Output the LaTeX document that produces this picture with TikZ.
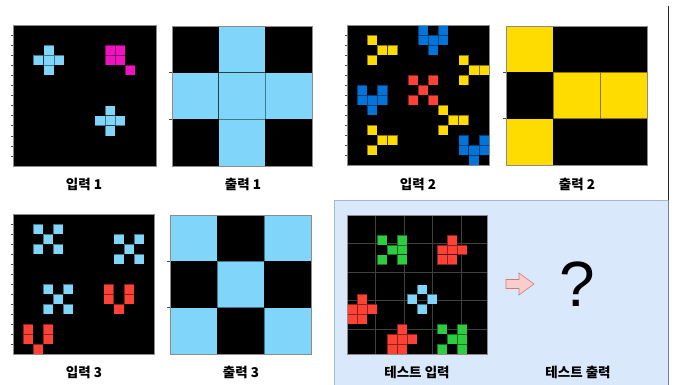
\documentclass[tikz,border=0pt]{standalone}
\usepackage{fontspec}
\setmainfont{Noto Sans CJK KR}
\newfontfamily\qfont{Liberation Sans}
\definecolor{arcLB}{HTML}{7FD6FA}
\definecolor{arcMG}{HTML}{F012BE}
\definecolor{arcBL}{HTML}{0074D9}
\definecolor{arcRD}{HTML}{FF4136}
\definecolor{arcYL}{HTML}{FFDC00}
\definecolor{arcGR}{HTML}{2ECC40}
\definecolor{boxfill}{HTML}{DAE8FC}
\definecolor{boxline}{HTML}{9FB8DE}
\definecolor{arrfill}{HTML}{F8CECC}
\definecolor{arrline}{HTML}{D07A78}
\tikzset{
  cell/.style={draw=black, draw opacity=0.45, line width=0.5pt},
  gridedge/.style={draw=black!45, line width=0.6pt},
  tick/.style={draw=black!70, line width=0.5pt},
  lbl/.style={font=\fontsize{13.5}{16}\selectfont\bfseries, inner sep=0pt},
  blockarrow/.style={draw=arrline, fill=arrfill, line width=0.6pt, line join=miter},
}
\newcommand\arccells[2]{\foreach \c/\r in {#2} {\filldraw[cell, fill=#1] (\c,\r) rectangle ++(1,1);}}
\newcommand\bigticks{\foreach \i in {1,2} {\draw[tick] (0,\i) -- ++(-0.06,0);}}
\newcommand\smallticks{\foreach \i in {1,...,13} {\draw[tick] (0,\i) -- ++(-0.15,0);}}
\begin{document}
\begin{tikzpicture}[x=1pt,y=-1pt]
\useasboundingbox (0,0) rectangle (677,385);
\fill[white] (0,0) rectangle (677,385);
% test box
\filldraw[fill=boxfill, draw=boxline, line width=0.8pt] (334,200.5) rectangle (668,392);
\draw[black!85, line width=1pt] (668,6) -- (668,200);
\draw[boxline!70!black, line width=0.8pt] (668,200) -- (668,392);

% Input 1
\begin{scope}[shift={(13,25)}, x=10.2pt, y=-10.07pt]
  \fill[black] (0,0) rectangle (14,14);
  \arccells{arcLB}{3/2,2/3,3/3,4/3,3/4, 9/8,8/9,9/9,10/9,9/10}
  \arccells{arcMG}{9/2,10/2,9/3,10/3,11/4}
  \draw[gridedge] (0,0) rectangle (14,14);
  \smallticks
\end{scope}
% Output 1
\begin{scope}[shift={(172,26)}, x=46.67pt, y=-46.67pt]
  \fill[black] (0,0) rectangle (3,3);
  \arccells{arcLB}{1/0,0/1,1/1,2/1,1/2}
  \draw[gridedge] (0,0) rectangle (3,3);
  \bigticks
\end{scope}
% Input 2
\begin{scope}[shift={(347,25)}, x=10.14pt, y=-10pt]
  \fill[black] (0,0) rectangle (14,14);
  \arccells{arcYL}{2/1,3/2,4/2,2/3, 11/3,12/4,13/4,11/5, 9/8,10/9,11/9,9/10, 2/10,3/11,4/11,2/12}
  \arccells{arcBL}{7/0,9/0,7/1,8/1,9/1,8/2, 1/6,3/6,1/7,2/7,3/7,2/8, 11/11,13/11,11/12,12/12,13/12,12/13}
  \arccells{arcRD}{6/5,8/5,7/6,6/7,8/7}
  \draw[gridedge] (0,0) rectangle (14,14);
  \smallticks
\end{scope}
% Output 2
\begin{scope}[shift={(506,26)}, x=47pt, y=-46.33pt]
  \fill[black] (0,0) rectangle (3,3);
  \arccells{arcYL}{0/0,1/1,2/1,0/2}
  \draw[gridedge] (0,0) rectangle (3,3);
  \bigticks
\end{scope}
% Input 3
\begin{scope}[shift={(13,214)}, x=10.07pt, y=-10pt]
  \fill[black] (0,0) rectangle (14,14);
  \arccells{arcLB}{2/1,4/1,3/2,2/3,4/3, 10/2,12/2,11/3,10/4,12/4, 3/7,5/7,4/8,3/9,5/9}
  \arccells{arcRD}{9/7,11/7,9/8,11/8,10/9, 1/11,3/11,1/12,3/12,2/13}
  \draw[gridedge] (0,0) rectangle (14,14);
  \smallticks
\end{scope}
% Output 3
\begin{scope}[shift={(170,215)}, x=47pt, y=-46.33pt]
  \fill[black] (0,0) rectangle (3,3);
  \arccells{arcLB}{0/0,2/0,1/1,0/2,2/2}
  \draw[gridedge] (0,0) rectangle (3,3);
  \bigticks
\end{scope}
% Test input
\begin{scope}[shift={(347,215)}, x=10pt, y=-9.93pt]
  \fill[black] (0,0) rectangle (14,14);
  \draw[white!25!black, line width=0.45pt] (0,0) grid (14,14);
  \arccells{arcGR}{3/2,5/2,4/3,5/3,3/4,5/4, 9/11,11/11,10/12,11/12,9/13,11/13}
  \arccells{arcRD}{10/2,9/3,10/3,11/3,9/4,10/4, 1/8,0/9,1/9,2/9,0/10,1/10, 5/11,4/12,5/12,6/12,4/13,5/13}
  \arccells{arcLB}{7/7,6/8,8/8,7/9}
  \draw[gridedge] (0,0) rectangle (14,14);
\end{scope}

% block arrow and question mark
\filldraw[blockarrow] (506,279.5) -- (519,279.5) -- (519,273) -- (534,284)
  -- (519,295) -- (519,288.5) -- (506,288.5) -- cycle;
\node[font=\qfont\fontsize{64}{64}\selectfont, inner sep=0pt] (qmark) at (577,284) {?};

% labels
\node[lbl] (lin1) at (84,184) {입력 1};
\node[lbl] (lout1) at (243,184) {출력 1};
\node[lbl] (lin2) at (418,184) {입력 2};
\node[lbl] (lout2) at (577,184) {출력 2};
\node[lbl] (lin3) at (84,372) {입력 3};
\node[lbl] (lout3) at (241,372) {출력 3};
\node[lbl] (ltin) at (417,372) {테스트 입력};
\node[lbl] (ltout) at (578,372) {테스트 출력};
\end{tikzpicture}
\end{document}
